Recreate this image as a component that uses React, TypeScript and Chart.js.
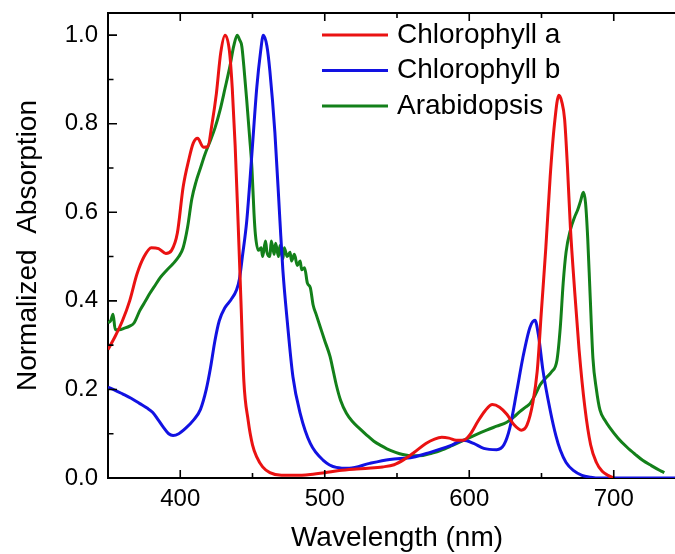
import React, { useEffect, useRef } from "react";
import { Chart, registerables } from "chart.js";

Chart.register(...registerables);

// ---- Data ----
const chlAWl = [350,355,360,365,370,375,380,385,390,394,398,402,406,409,412,416,419,422,425,428,431,434,436,438,440,442,444,447,450,453,457,462,470,480,490,500,510,520,530,540,548,555,562,570,576,581,586,591,596,601,606,611,616,621,626,631,636,640,644,647,650,653,656,659,662,664,666,668,670,673,676,680,684,688,692,696,700];
const chlAVal = [0.29,0.32,0.355,0.40,0.46,0.50,0.52,0.518,0.507,0.514,0.553,0.657,0.72,0.756,0.767,0.747,0.748,0.80,0.868,0.96,1.0,0.965,0.88,0.75,0.58,0.40,0.22,0.13,0.075,0.047,0.025,0.012,0.006,0.006,0.008,0.012,0.017,0.02,0.022,0.025,0.03,0.042,0.058,0.078,0.088,0.092,0.09,0.085,0.085,0.10,0.128,0.152,0.166,0.16,0.144,0.12,0.108,0.12,0.17,0.24,0.38,0.52,0.68,0.80,0.864,0.85,0.81,0.70,0.566,0.42,0.29,0.16,0.075,0.035,0.015,0.006,0.0];

const chlBWl = [350,355,360,366,372,377,381,385,388,392,395,399,404,409,414,418,421,424,427,431,435,439,441,443,446,449.6,453,455.5,457.5,460,462,465.5,469,471,474,478,483,490,499,508,517,531,545,561,573,587,596,603,610,619,624,628,633,637,642,645.5,648,651,656,660,663,667,672,678,684,690,750];
const chlBVal = [0.205,0.198,0.19,0.18,0.168,0.158,0.148,0.13,0.116,0.1,0.096,0.1,0.113,0.13,0.155,0.2,0.25,0.31,0.355,0.385,0.402,0.425,0.45,0.5,0.58,0.733,0.883,0.96,1.0,0.975,0.92,0.78,0.58,0.47,0.356,0.228,0.146,0.078,0.04,0.024,0.022,0.033,0.042,0.047,0.058,0.073,0.085,0.078,0.067,0.064,0.075,0.112,0.198,0.27,0.34,0.356,0.32,0.243,0.153,0.095,0.063,0.035,0.017,0.006,0.002,0,0];

const arabWl = [350,352,353.5,355,358,361,365,368,372,376,379,383,386,390,395,399,402,405,408,411,414,417,420.6,424,427.5,431,434.4,437,439.4,441,442.6,444,446,448,449.6,451,452,454,456,457,459,460,462,463,465,466,468,469,471,472,474,476,477,479,481,483,484,486,488,490,492,494,497,500,503.6,506,508,511,515,519,524,529,534,539,543,549,554,561,568,574,580,588,596,604,612,619,626,631,635,639,642,646,649,653,657,660.7,663,665,667,670,673,675,677,679,680.5,682,683.6,685.6,688,690.5,694,697,703,709,715,720,726,732,735];
const arabVal = [0.35,0.356,0.37,0.335,0.335,0.338,0.343,0.35,0.378,0.40,0.417,0.437,0.452,0.467,0.484,0.50,0.52,0.565,0.63,0.67,0.70,0.73,0.76,0.79,0.83,0.88,0.93,0.975,1.0,0.99,0.975,0.93,0.853,0.77,0.70,0.6,0.55,0.514,0.52,0.5,0.535,0.51,0.5,0.535,0.505,0.53,0.50,0.525,0.495,0.52,0.5,0.51,0.49,0.505,0.48,0.49,0.47,0.475,0.44,0.43,0.39,0.37,0.34,0.31,0.275,0.24,0.21,0.175,0.146,0.128,0.112,0.097,0.083,0.073,0.066,0.058,0.053,0.05,0.051,0.056,0.062,0.073,0.085,0.097,0.108,0.117,0.126,0.138,0.15,0.16,0.168,0.19,0.21,0.226,0.24,0.266,0.34,0.44,0.51,0.56,0.59,0.605,0.625,0.645,0.62,0.54,0.417,0.27,0.2,0.153,0.13,0.115,0.09,0.07,0.053,0.04,0.028,0.017,0.012];

const seriesNames = ["Chlorophyll a", "Chlorophyll b", "Arabidopsis"];
const seriesColors = ["#ea1212", "#1212e2", "#13801a"];

const xMajorTicks = [400, 500, 600, 700];
const xMinorTicks = [450, 550, 650];
const yMajorTicks = [0, 0.2, 0.4, 0.6, 0.8, 1.0];
const yMinorTicks = [0.1, 0.3, 0.5, 0.7, 0.9];

const xTitle = "Wavelength (nm)";
const yTitle = "Normalized  Absorption";

const FONT = "'Liberation Sans', Arial, sans-serif";

const toPoints = (xs: number[], ys: number[]) => xs.map((x, i) => ({ x, y: ys[i] }));

const framePlugin = {
  id: "frameTicks",
  afterDatasetsDraw(chart: any) {
    const { ctx, chartArea } = chart;
    const { left, right, top, bottom } = chartArea;
    const xs = chart.scales.x;
    const ys = chart.scales.y;
    ctx.save();
    ctx.strokeStyle = "#000";
    ctx.lineWidth = 2;
    ctx.beginPath();
    ctx.moveTo(left, top);
    ctx.lineTo(right, top);
    ctx.lineTo(right, bottom);
    ctx.stroke();
    ctx.lineWidth = 1.6;
    const drawX = (v: number, len: number) => {
      const px = xs.getPixelForValue(v);
      ctx.beginPath();
      ctx.moveTo(px, bottom);
      ctx.lineTo(px, bottom - len);
      ctx.moveTo(px, top);
      ctx.lineTo(px, top + len);
      ctx.stroke();
    };
    const drawY = (v: number, len: number) => {
      const py = ys.getPixelForValue(v);
      ctx.beginPath();
      ctx.moveTo(left, py);
      ctx.lineTo(left + len, py);
      ctx.moveTo(right, py);
      ctx.lineTo(right - len, py);
      ctx.stroke();
    };
    xMajorTicks.forEach((v) => drawX(v, 8));
    xMinorTicks.forEach((v) => drawX(v, 5));
    yMajorTicks.forEach((v) => drawY(v, 9));
    yMinorTicks.forEach((v) => drawY(v, 5.5));

    // legend
    ctx.font = `28px ${FONT}`;
    ctx.textBaseline = "middle";
    ctx.textAlign = "left";
    chart.data.datasets.forEach((ds: any, i: number) => {
      const y = top + 22 + i * 35.5;
      const x0 = left + 214;
      ctx.strokeStyle = ds.borderColor;
      ctx.lineWidth = 3;
      ctx.beginPath();
      ctx.moveTo(x0, y);
      ctx.lineTo(x0 + 66, y);
      ctx.stroke();
      ctx.fillStyle = "#000";
      ctx.fillText(ds.label, x0 + 75, y);
    });
    ctx.restore();
  },
};

export default function App() {
  const ref = useRef<HTMLCanvasElement>(null);
  useEffect(() => {
    if (!ref.current) return;
    const xsArr = [chlAWl, chlBWl, arabWl];
    const ysArr = [chlAVal, chlBVal, arabVal];
    const chart = new Chart(ref.current, {
      type: "line",
      data: {
        datasets: seriesNames.map((name, i) => ({
          label: name,
          data: toPoints(xsArr[i], ysArr[i]),
          borderColor: seriesColors[i],
          backgroundColor: seriesColors[i],
          borderWidth: 3,
          pointRadius: 0,
          cubicInterpolationMode: "monotone" as const,
          fill: false,
        })),
      },
      options: {
        animation: false,
        responsive: true,
        maintainAspectRatio: false,
        layout: { padding: { top: 13, right: 14, left: 0, bottom: 0 } },
        plugins: { legend: { display: false }, tooltip: { enabled: false } },
        scales: {
          x: {
            type: "linear",
            min: 350,
            max: 750,
            grid: { display: false, drawTicks: false },
            border: { display: true, color: "#000", width: 2 },
            afterBuildTicks: (s: any) => {
              s.ticks = xMajorTicks.map((v) => ({ value: v }));
            },
            afterFit: (s: any) => {
              s.height = 76;
              s.paddingLeft = 0;
              s.paddingRight = 0;
            },
            ticks: {
              padding: 7,
              color: "#000",
              font: { family: FONT, size: 24 },
              maxRotation: 0,
              callback: (v: any) => String(v),
            },
            title: {
              display: true,
              text: xTitle,
              color: "#000",
              font: { family: FONT, size: 28, lineHeight: 1 },
              padding: { top: 0, bottom: 2 },
            },
          },
          y: {
            type: "linear",
            min: 0,
            max: 1.05,
            grid: { display: false, drawTicks: false },
            border: { display: true, color: "#000", width: 2 },
            afterBuildTicks: (s: any) => {
              s.ticks = yMajorTicks.map((v) => ({ value: v }));
            },
            afterFit: (s: any) => {
              s.width = 108;
              s.paddingTop = 0;
              s.paddingBottom = 0;
            },
            ticks: {
              padding: 10,
              color: "#000",
              font: { family: FONT, size: 24 },
              callback: (v: any) => Number(v).toFixed(1),
            },
            title: {
              display: true,
              text: yTitle,
              color: "#000",
              font: { family: FONT, size: 28, lineHeight: 1 },
              padding: { top: 14, bottom: 0 },
            },
          },
        },
      },
      plugins: [framePlugin],
    });
    return () => chart.destroy();
  }, []);
  return (
    <div
      style={{
        position: "fixed",
        left: 0,
        top: 0,
        width: 675,
        height: 554,
        overflow: "hidden",
        background: "#fff",
      }}
    >
      <div style={{ position: "relative", width: 700, height: 554 }}>
        <canvas ref={ref} />
      </div>
    </div>
  );
}
